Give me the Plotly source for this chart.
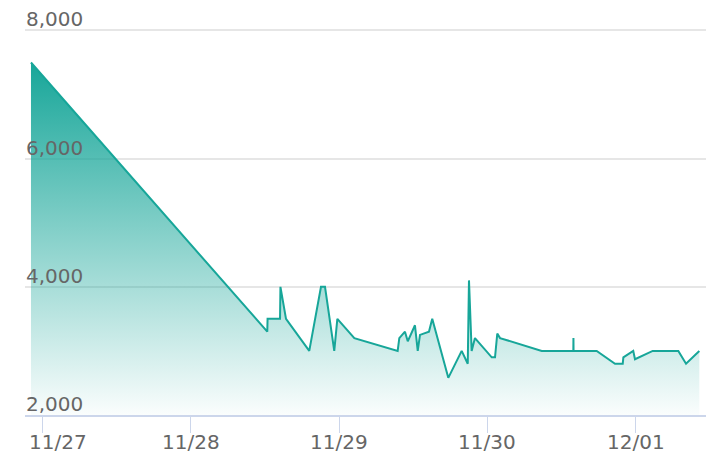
import plotly.graph_objects as go

# ---- data ----
times = [
    "2023-11-26 22:06", "2023-11-28 12:22", "2023-11-28 12:25", "2023-11-28 14:26",
    "2023-11-28 14:30", "2023-11-28 15:24", "2023-11-28 19:10", "2023-11-28 21:04",
    "2023-11-28 21:43", "2023-11-28 23:13", "2023-11-28 23:43", "2023-11-29 02:28",
    "2023-11-29 09:29", "2023-11-29 09:45", "2023-11-29 10:40", "2023-11-29 11:07",
    "2023-11-29 12:17", "2023-11-29 12:44", "2023-11-29 13:06", "2023-11-29 14:33",
    "2023-11-29 15:05", "2023-11-29 17:41", "2023-11-29 19:51", "2023-11-29 20:50",
    "2023-11-29 21:02", "2023-11-29 21:28", "2023-11-29 22:00", "2023-11-30 00:43",
    "2023-11-30 01:15", "2023-11-30 01:37", "2023-11-30 02:04", "2023-11-30 08:49",
    "2023-11-30 13:56", "2023-11-30 13:57", "2023-11-30 13:58", "2023-11-30 17:43",
    "2023-11-30 20:41", "2023-11-30 21:56", "2023-11-30 22:02", "2023-11-30 23:38",
    "2023-11-30 23:55", "2023-12-01 02:47", "2023-12-01 06:56", "2023-12-01 08:11",
    "2023-12-01 10:20",
]
values = [
    7500, 3300, 3500, 3500,
    4000, 3500, 3000, 4000,
    4000, 3000, 3500, 3200,
    3000, 3200, 3300, 3150,
    3400, 3000, 3250, 3300,
    3500, 2580, 3000, 2800,
    4100, 3000, 3200, 2900,
    2900, 3270, 3200, 3000,
    3000, 3200, 3000, 3000,
    2800, 2800, 2900, 3000,
    2870, 3000, 3000, 2800,
    3000,
]

x_tick_dates = ["2023-11-27", "2023-11-28", "2023-11-29", "2023-11-30", "2023-12-01"]
x_tick_labels = ["11/27", "11/28", "11/29", "11/30", "12/01"]
y_tick_vals = [2000, 4000, 6000, 8000]
y_tick_labels = ["2,000", "4,000", "6,000", "8,000"]

LINE = "rgb(23,166,153)"
FONT = "DejaVu Sans"
LABEL_FONT = dict(family=FONT, size=20, color="#666666")

fig = go.Figure()
fig.add_trace(go.Scatter(
    x=times, y=values, mode="lines",
    line=dict(color=LINE, width=2),
    fill="tozeroy",
    fillgradient=dict(
        type="vertical",
        start=2000, stop=7500,
        colorscale=[[0, "rgba(23,166,153,0.02)"], [1, "rgba(23,166,153,1)"]],
    ),
    hoverinfo="skip",
    showlegend=False,
))

# x tick labels (first one justified to stay inside the chart)
for i, (d, lab) in enumerate(zip(x_tick_dates, x_tick_labels)):
    fig.add_annotation(
        x=d, xref="x", y=0, yref="paper",
        text=lab, showarrow=False,
        xanchor="left" if i == 0 else "center",
        xshift=-16 if i == 0 else 0,
        yanchor="middle", yshift=-27,
        font=LABEL_FONT,
    )

# y tick labels, left-aligned just above their gridlines
for v, lab in zip(y_tick_vals, y_tick_labels):
    fig.add_annotation(
        x=0, xref="paper", y=v, yref="y",
        text=lab, showarrow=False,
        xanchor="left", xshift=-1,
        yanchor="middle", yshift=11,
        font=LABEL_FONT,
    )

fig.update_layout(
    width=702, height=454,
    margin=dict(l=17, r=4, t=0, b=47),
    paper_bgcolor="white", plot_bgcolor="white",
    font=dict(family=FONT, size=20, color="#666666"),
    xaxis=dict(
        range=["2023-11-26 21:08", "2023-12-01 11:25"],
        type="date",
        tickvals=x_tick_dates,
        showticklabels=False,
        ticks="outside", ticklen=16, tickcolor="#ccd6eb", tickwidth=1,
        showgrid=False, zeroline=False,
        showline=True, linecolor="#ccd6eb", linewidth=2,
    ),
    yaxis=dict(
        range=[2000, 8350],
        tickvals=y_tick_vals,
        showticklabels=False,
        showgrid=True, gridcolor="#e6e6e6", gridwidth=1.5,
        zeroline=False, showline=False,
    ),
)

fig.write_html("out.html")
